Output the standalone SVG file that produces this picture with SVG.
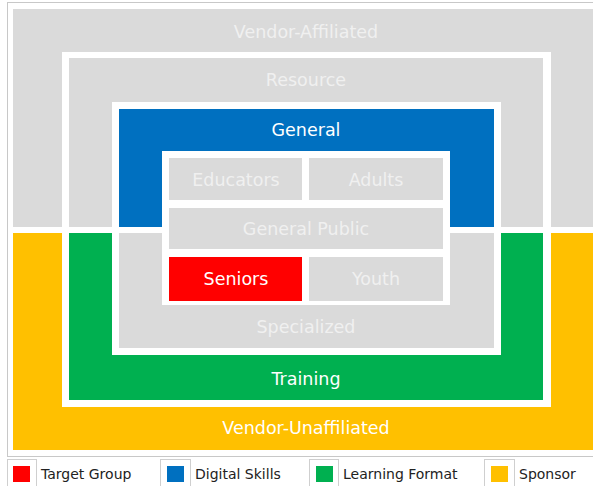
<svg xmlns="http://www.w3.org/2000/svg" width="593" height="486" viewBox="0 0 593 486">
<style>
.g{fill:#dadada}
.w{fill:#ffffff}
.lbl{font-family:"DejaVu Sans",Verdana,sans-serif;font-size:17.5px;fill:#ffffff;text-anchor:middle}
.glbl{font-family:"DejaVu Sans",Verdana,sans-serif;font-size:17.5px;fill:#f0f0f0;text-anchor:middle}
.leg{font-family:"DejaVu Sans",Verdana,sans-serif;font-size:14px;fill:#222222}
.lf{fill:#ffffff;stroke:#cfcfcf;stroke-width:1}
</style>
<rect x="0" y="0" width="593" height="486" fill="#ffffff"/>
<rect x="7.5" y="2.5" width="590" height="454" fill="#ffffff" stroke="#c8c8c8" stroke-width="1"/>
<g id="vendor-affiliated">
<rect class="g" x="13" y="9" width="580" height="218"/>
<text class="glbl" x="306" y="38">Vendor-Affiliated</text>
</g>
<g id="vendor-unaffiliated">
<rect x="13" y="233" width="580" height="217" fill="#ffc000"/>
<text class="lbl" x="306" y="434">Vendor-Unaffiliated</text>
</g>
<rect class="w" x="62" y="52" width="489" height="355"/>
<g id="resource">
<rect class="g" x="69" y="58" width="474" height="169"/>
<text class="glbl" x="306" y="86">Resource</text>
</g>
<g id="training">
<rect x="69" y="233" width="474" height="167" fill="#00b050"/>
<text class="lbl" x="306" y="385">Training</text>
</g>
<rect class="w" x="112" y="102" width="389" height="253"/>
<g id="general">
<rect x="119" y="109" width="375" height="118" fill="#0070c0"/>
<text class="lbl" x="306" y="136">General</text>
</g>
<g id="specialized">
<rect class="g" x="119" y="233" width="375" height="115"/>
<text class="glbl" x="306" y="333">Specialized</text>
</g>
<rect class="w" x="162" y="151" width="288" height="154"/>
<g id="educators">
<rect class="g" x="169" y="158" width="133" height="42"/>
<text class="glbl" x="236" y="186">Educators</text>
</g>
<g id="adults">
<rect class="g" x="309" y="158" width="134" height="42"/>
<text class="glbl" x="376" y="186">Adults</text>
</g>
<g id="general-public">
<rect class="g" x="169" y="208" width="274" height="41"/>
<text class="glbl" x="306" y="235">General Public</text>
</g>
<g id="seniors">
<rect x="169" y="257" width="133" height="44" fill="#ff0000"/>
<text class="lbl" x="236" y="285">Seniors</text>
</g>
<g id="youth">
<rect class="g" x="309" y="257" width="134" height="44"/>
<text class="glbl" x="376" y="285">Youth</text>
</g>
<g id="connectors"></g>
<g id="legend">
<rect class="lf" x="7.5" y="459.5" width="29" height="30"/>
<rect x="13" y="466" width="17" height="16" fill="#ff0000"/>
<text class="leg" x="41" y="479">Target Group</text>
<rect class="lf" x="160.5" y="459.5" width="30" height="30"/>
<rect x="167" y="466" width="17" height="16" fill="#0070c0"/>
<text class="leg" x="195" y="479">Digital Skills</text>
<rect class="lf" x="309.5" y="459.5" width="29" height="30"/>
<rect x="316" y="466" width="17" height="16" fill="#00b050"/>
<text class="leg" x="343" y="479">Learning Format</text>
<rect class="lf" x="484.5" y="459.5" width="30" height="30"/>
<rect x="491" y="466" width="17" height="16" fill="#ffc000"/>
<text class="leg" x="519" y="479">Sponsor</text>
</g>
</svg>
